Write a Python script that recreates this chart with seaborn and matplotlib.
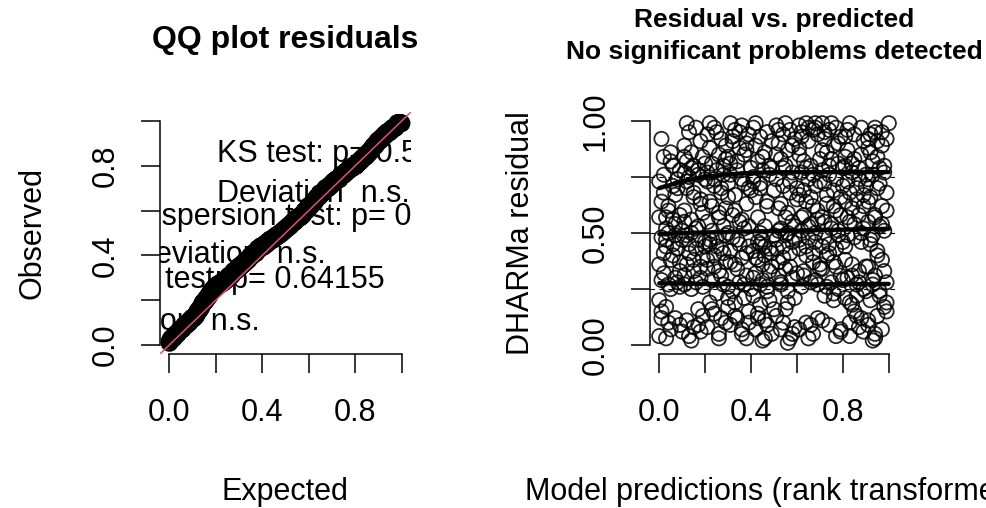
import matplotlib
matplotlib.use("Agg")
import matplotlib.pyplot as plt
import seaborn as sns
import numpy as np

# scaled residuals vs rank-transformed predictions
pred_a = [0.01,0.02,0.05,0.00,0.02,0.07,0.00,0.03,0.01,0.04,0.06,0.02,0.08,0.00,0.05,0.09,0.01,0.04,0.07,0.00,0.03,0.01,0.05,0.09,0.00,0.03,0.09,0.06,0.08,0.04,0.09,0.03,0.07,0.10,0.06,
          0.02,0.05,0.08,0.01,0.04,0.07,0.10,0.03,0.06,0.09,0.02,0.05,0.08,0.01,0.04,0.07,0.10,0.03,0.06,0.09]
res_a = [0.92,0.84,0.86,0.73,0.68,0.67,0.57,0.57,0.48,0.50,0.45,0.41,0.43,0.36,0.38,0.33,0.29,0.27,0.30,0.20,0.17,0.12,0.07,0.09,0.04,0.03,0.78,0.80,0.74,0.62,0.58,0.52,0.54,0.47,0.71,
         0.76,0.82,0.70,0.64,0.60,0.49,0.51,0.44,0.40,0.37,0.32,0.25,0.28,0.15,0.10,0.12,0.06,0.47,0.56,0.26]
pred_b = [0.12,0.13,0.16,0.11,0.14,0.18,0.12,0.15,0.19,0.11,0.13,0.17,0.20,0.12,0.15,0.18,0.11,0.14,0.19,0.16,0.12,0.17,0.20,0.13,0.15,0.18,0.11,0.16,0.19,0.14,0.12,0.17,0.15,0.19,0.13,0.18,
          0.11,0.14,0.17,0.20,0.12,0.15,0.18,0.11,0.14,0.17,0.20,0.13,0.16,0.19,0.12,0.15,0.18,0.11,0.14,0.17]
res_b = [0.99,0.95,0.97,0.89,0.86,0.91,0.82,0.80,0.84,0.77,0.75,0.78,0.81,0.70,0.66,0.63,0.60,0.56,0.59,0.52,0.49,0.47,0.44,0.41,0.38,0.35,0.31,0.28,0.26,0.25,0.11,0.16,0.08,0.13,0.04,0.06,
         0.84,0.79,0.76,0.74,0.73,0.68,0.65,0.55,0.50,0.53,0.46,0.45,0.43,0.39,0.36,0.33,0.30,0.27,0.02,0.09]
pred_c = [0.21,0.24,0.27,0.22,0.26,0.29,0.23,0.25,0.28,0.21,0.24,0.27,0.30,0.22,0.26,0.29,0.21,0.23,0.28,0.25,0.22,0.27,0.24,0.29,0.21,0.26,0.23,0.28,0.25,0.22,0.30,0.24,0.27,0.21,0.26,0.29,
          0.22,0.25,0.28,0.21,0.24,0.27,0.30,0.23,0.26,0.29,0.22,0.25,0.28,0.21,0.24,0.27,0.30,0.23,0.26,0.29]
res_c = [0.94,0.97,0.92,0.88,0.85,0.89,0.81,0.78,0.76,0.73,0.71,0.68,0.72,0.64,0.59,0.61,0.55,0.51,0.53,0.48,0.45,0.43,0.40,0.37,0.34,0.33,0.29,0.27,0.23,0.19,0.21,0.14,0.12,0.08,0.05,0.10,
         0.99,0.95,0.80,0.77,0.74,0.70,0.66,0.62,0.57,0.49,0.47,0.44,0.41,0.38,0.35,0.31,0.26,0.16,0.03,0.83]
pred_d = [0.31,0.33,0.36,0.39,0.32,0.35,0.38,0.30,0.34,0.37,0.40,0.31,0.36,0.39,0.33,0.38,0.32,0.35,0.30,0.37,0.34,0.39,0.31,0.36,0.33,0.38,0.35,0.32,0.37,0.30,0.39,0.34,0.36,0.31,0.38,0.33,
          0.32,0.35,0.38,0.31,0.34,0.37,0.40,0.33,0.36,0.39,0.32,0.35,0.38,0.31,0.34,0.37,0.40,0.33,0.36,0.39]
res_d = [0.99,0.96,0.98,0.94,0.91,0.88,0.90,0.84,0.82,0.85,0.79,0.76,0.74,0.70,0.67,0.63,0.58,0.55,0.50,0.52,0.47,0.44,0.42,0.39,0.36,0.31,0.28,0.24,0.21,0.17,0.15,0.12,0.07,0.09,0.03,0.13,
         0.93,0.95,0.87,0.81,0.78,0.72,0.69,0.60,0.56,0.53,0.48,0.45,0.41,0.37,0.34,0.27,0.25,0.19,0.05,0.10]
pred_e = [0.41,0.44,0.47,0.42,0.46,0.49,0.43,0.45,0.48,0.41,0.44,0.50,0.42,0.47,0.43,0.46,0.45,0.44,0.48,0.41,0.46,0.43,0.49,0.42,0.45,0.47,0.41,0.44,0.48,0.43,0.46,0.42,0.49,0.45,0.47,0.44,
          0.42,0.45,0.48,0.41,0.44,0.47,0.50,0.43,0.46,0.49,0.42,0.45,0.48,0.41,0.44,0.47,0.50,0.43,0.46,0.49]
res_e = [0.97,0.93,0.95,0.89,0.86,0.91,0.82,0.78,0.80,0.75,0.72,0.69,0.66,0.64,0.57,0.53,0.47,0.45,0.43,0.42,0.40,0.38,0.35,0.32,0.29,0.26,0.22,0.18,0.20,0.14,0.11,0.07,0.05,0.02,0.09,0.50,
         0.99,0.84,0.76,0.73,0.70,0.62,0.49,0.46,0.44,0.41,0.39,0.36,0.33,0.30,0.27,0.24,0.16,0.12,0.03,0.79]
pred_f = [0.51,0.54,0.57,0.52,0.56,0.59,0.53,0.55,0.58,0.51,0.54,0.57,0.60,0.52,0.55,0.58,0.53,0.56,0.51,0.59,0.54,0.57,0.52,0.55,0.58,0.53,0.56,0.59,0.51,0.54,0.57,0.56,0.58,0.53,0.55,0.52,
          0.52,0.55,0.58,0.51,0.54,0.57,0.60,0.53,0.56,0.59,0.52,0.55,0.58,0.51,0.54,0.57,0.60,0.53,0.56,0.59]
res_f = [0.98,0.94,0.96,0.90,0.87,0.92,0.83,0.80,0.77,0.74,0.71,0.68,0.65,0.61,0.57,0.55,0.52,0.50,0.47,0.48,0.44,0.41,0.37,0.34,0.30,0.27,0.24,0.21,0.13,0.10,0.03,0.01,0.05,0.07,0.16,0.31,
         0.96,0.99,0.89,0.85,0.79,0.73,0.70,0.63,0.59,0.53,0.51,0.49,0.46,0.43,0.39,0.35,0.32,0.28,0.19,0.08]
pred_g = [0.61,0.64,0.67,0.69,0.62,0.65,0.68,0.61,0.63,0.66,0.70,0.62,0.65,0.68,0.61,0.64,0.67,0.63,0.66,0.69,0.62,0.65,0.68,0.61,0.64,0.67,0.70,0.63,0.66,0.62,0.69,0.64,0.61,0.67,0.65,0.68,
          0.62,0.65,0.68,0.61,0.64,0.67,0.70,0.63,0.66,0.69,0.62,0.65,0.68,0.61,0.64,0.67,0.70,0.63,0.66,0.69]
res_g = [0.98,0.99,0.96,0.94,0.93,0.91,0.97,0.85,0.82,0.80,0.83,0.77,0.74,0.71,0.67,0.64,0.62,0.58,0.54,0.56,0.51,0.48,0.46,0.43,0.40,0.37,0.34,0.31,0.28,0.26,0.12,0.10,0.07,0.05,0.03,0.29,
         0.95,0.97,0.99,0.88,0.79,0.76,0.73,0.69,0.66,0.60,0.57,0.53,0.50,0.47,0.44,0.41,0.36,0.33,0.09,0.27]
pred_h = [0.71,0.74,0.77,0.72,0.76,0.79,0.73,0.75,0.78,0.71,0.74,0.80,0.72,0.76,0.79,0.73,0.77,0.71,0.75,0.78,0.72,0.74,0.77,0.80,0.73,0.76,0.71,0.79,0.75,0.78,0.72,0.76,0.74,0.79,0.77,0.71,
          0.72,0.75,0.78,0.71,0.74,0.77,0.80,0.73,0.76,0.79,0.72,0.75,0.78,0.71,0.74,0.77,0.80,0.73,0.76,0.79]
res_h = [0.99,0.96,0.97,0.92,0.89,0.93,0.86,0.83,0.81,0.78,0.76,0.79,0.72,0.69,0.66,0.63,0.60,0.57,0.54,0.51,0.48,0.45,0.43,0.46,0.40,0.37,0.34,0.31,0.28,0.25,0.22,0.20,0.09,0.06,0.04,0.11,
         0.95,0.99,0.90,0.87,0.80,0.74,0.71,0.67,0.62,0.58,0.55,0.52,0.49,0.44,0.41,0.35,0.29,0.26,0.23,0.07]
pred_i = [0.83,0.81,0.89,0.82,0.85,0.88,0.81,0.84,0.87,0.90,0.82,0.86,0.89,0.81,0.84,0.87,0.83,0.89,0.82,0.85,0.88,0.81,0.84,0.87,0.90,0.82,0.86,0.89,0.83,0.85,0.88,0.81,0.84,0.87,0.83,0.86,
          0.82,0.85,0.88,0.81,0.84,0.87,0.90,0.83,0.86,0.89,0.82,0.85,0.88,0.81,0.84,0.87,0.90,0.83,0.86,0.89]
res_i = [0.99,0.93,0.91,0.87,0.83,0.85,0.80,0.77,0.79,0.76,0.73,0.70,0.67,0.64,0.61,0.58,0.55,0.52,0.49,0.48,0.50,0.44,0.36,0.33,0.35,0.30,0.27,0.25,0.04,0.15,0.12,0.21,0.18,0.08,0.10,0.22,
         0.96,0.94,0.97,0.84,0.81,0.74,0.71,0.68,0.65,0.62,0.57,0.54,0.46,0.38,0.31,0.28,0.24,0.19,0.13,0.06]
pred_j = [1.00,0.92,0.95,0.97,0.91,0.94,0.99,0.93,0.96,0.98,0.91,0.95,0.92,0.97,0.94,0.99,0.91,0.96,0.93,0.98,0.92,0.95,0.97,0.91,0.94,0.99,0.93,0.96,0.92,0.98,0.95,0.91,0.94,0.97,0.93,0.99,
          0.91,0.94,0.97,0.92,0.95,0.98,0.93,0.96,0.99,0.91,0.94,0.97,0.92,0.95,0.98,0.93,0.96,0.99,0.91,0.94]
res_j = [0.99,0.94,0.91,0.89,0.88,0.95,0.92,0.82,0.79,0.77,0.74,0.70,0.66,0.62,0.58,0.60,0.55,0.53,0.49,0.51,0.45,0.42,0.38,0.35,0.31,0.28,0.27,0.24,0.20,0.17,0.13,0.09,0.05,0.07,0.02,0.15,
         0.92,0.97,0.95,0.86,0.84,0.80,0.76,0.72,0.68,0.64,0.57,0.54,0.47,0.40,0.33,0.29,0.22,0.19,0.11,0.03]

pred = np.array(pred_a + pred_b + pred_c + pred_d + pred_e + pred_f + pred_g + pred_h + pred_i + pred_j)
resid = np.array(res_a + res_b + res_c + res_d + res_e + res_f + res_g + res_h + res_i + res_j)

# fitted quantile curves (0.25, 0.5, 0.75)
q_x = [0.0, 0.1, 0.2, 0.3, 0.4, 0.5, 0.6, 0.7, 0.8, 0.9, 1.0]
q25 = [0.276, 0.274, 0.273, 0.272, 0.271, 0.271, 0.271, 0.271, 0.272, 0.272, 0.273]
q50 = [0.495, 0.500, 0.503, 0.505, 0.507, 0.509, 0.511, 0.513, 0.515, 0.517, 0.519]
q75 = [0.700, 0.730, 0.750, 0.762, 0.768, 0.771, 0.772, 0.772, 0.772, 0.772, 0.772]

# test annotations: (text, x, y) in data units of the QQ panel
qq_texts = [
    ("KS test: p= 0.53481", 0.206, 0.817),
    ("Deviation  n.s.", 0.206, 0.638),
    ("Dispersion test: p= 0.952", -0.155, 0.536),
    ("Deviation  n.s.", -0.155, 0.366),
    ("Outlier test: p= 0.64155", -0.44, 0.254),
    ("Deviation  n.s.", -0.44, 0.067),
]

sns.set_style("ticks")
plt.rcParams['font.family'] = ['Liberation Sans', 'DejaVu Sans']
plt.rcParams['text.color'] = 'black'
plt.rcParams['xtick.color'] = 'black'
plt.rcParams['ytick.color'] = 'black'

W, H = 987, 508
fig = plt.figure(figsize=(W / 100, H / 100), dpi=100)
ax1 = fig.add_axes([160 / W, (H - 354) / H, 251 / W, 242 / H])
ax2 = fig.add_axes([650 / W, (H - 354) / H, 248 / W, 242 / H])

# QQ plot
n = len(resid)
observed = np.sort(resid)
expected = (np.arange(1, n + 1) - 0.5) / n
for txt, tx, ty in qq_texts:
    ax1.text(tx, ty, txt, fontsize=22, color='black', ha='left', va='baseline', clip_on=True, zorder=1)
sns.scatterplot(x=expected, y=observed, ax=ax1, marker='o', s=130, facecolor='none',
                edgecolor='black', linewidth=1.5, zorder=2)
ax1.axline((0, 0), slope=1, color='#DF536B', lw=1.1, zorder=3)

# residual vs predicted
for qv in (0.25, 0.5, 0.75):
    ax2.axhline(qv, color='black', lw=0.8, ls=(0, (4, 4)), zorder=1)
for qline in (q25, q50, q75):
    ax2.fill_between(q_x, np.array(qline) - 0.012, np.array(qline) + 0.012,
                     color='#d9d9d9', lw=0, zorder=1.5)
sns.scatterplot(x=pred, y=resid, ax=ax2, marker='o', s=105, facecolor='none',
                edgecolor='black', linewidth=1.3, alpha=0.85, zorder=2)
for qline in (q25, q50, q75):
    sns.lineplot(x=q_x, y=qline, ax=ax2, color='black', lw=3, zorder=3)

for ax in (ax1, ax2):
    ax.set_xlim(-0.04, 1.04)
    ax.set_ylim(-0.04, 1.04)
    ax.set_xticks([0, 0.2, 0.4, 0.6, 0.8, 1.0])
    ax.set_xticklabels(['0.0', '', '0.4', '', '0.8', ''])
    for s in ('top', 'right'):
        ax.spines[s].set_visible(False)
    for s in ('left', 'bottom'):
        ax.spines[s].set_bounds(0, 1)
        ax.spines[s].set_linewidth(1.1)
        ax.spines[s].set_color('black')
    ax.tick_params(length=14, width=1.1, color='black', labelcolor='black', labelsize=22, pad=18)
    ax.tick_params(axis='y', labelrotation=90, pad=14)
    ax.set_xlabel('')
    ax.set_ylabel('')

ax1.set_yticks([0, 0.2, 0.4, 0.6, 0.8, 1.0])
ax1.set_yticklabels(['0.0', '', '0.4', '', '0.8', ''])
ax2.set_yticks([0, 0.25, 0.5, 0.75, 1.0])
ax2.set_yticklabels(['0.00', '', '0.50', '', '1.00'])
for ax in (ax1, ax2):
    for lab in ax.get_yticklabels():
        lab.set_va('center')

# axis labels and titles placed in pixel positions
fig.text(285 / W, 8 / H, 'Expected', fontsize=22, ha='center', va='baseline')
fig.text(774 / W, 8 / H, 'Model predictions (rank transformed)', fontsize=22, ha='center', va='baseline')
fig.text(33 / W, (H - 233) / H, 'Observed', fontsize=22, ha='center', va='center', rotation=90)
fig.text(521 / W, (H - 233) / H, 'DHARMa residual', fontsize=22, ha='center', va='center', rotation=90)
fig.text(285 / W, (H - 48) / H, 'QQ plot residuals', fontsize=23, fontweight='bold', ha='center', va='baseline')
fig.text(774 / W, (H - 27) / H, 'Residual vs. predicted', fontsize=19, fontweight='bold', ha='center', va='baseline')
fig.text(774 / W, (H - 59) / H, 'No significant problems detected', fontsize=19, fontweight='bold', ha='center', va='baseline')

fig.savefig('out.png', dpi=100)
